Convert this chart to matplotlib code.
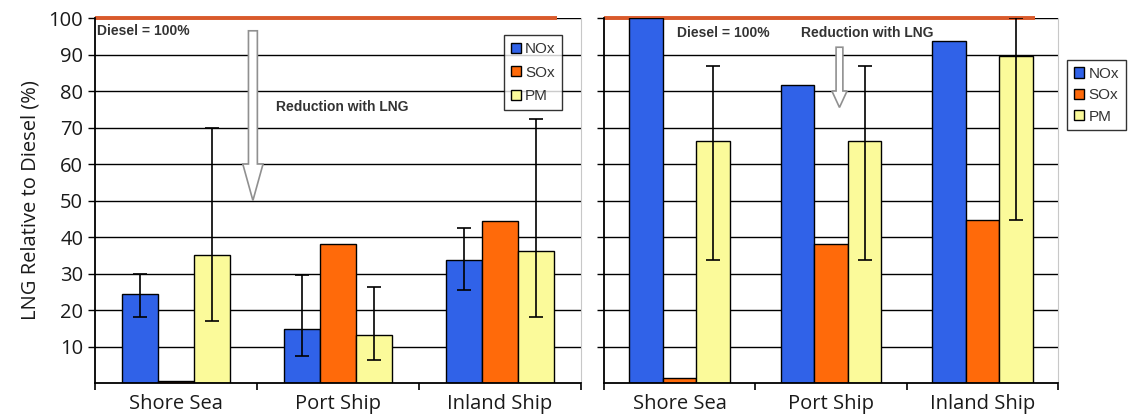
import matplotlib
matplotlib.use("Agg")
import matplotlib.pyplot as plt
import numpy as np
from matplotlib.patches import FancyArrow

categories = ["Shore Sea", "Port Ship", "Inland Ship"]
series = ["NOx", "SOx", "PM"]

# Left panel values
left_nox = [24.5, 14.7, 33.7]
left_sox = [0.5, 38.0, 44.5]
left_pm = [35.2, 13.2, 36.3]
left_nox_lo = [18.2, 7.3, 25.4]
left_nox_hi = [30.0, 29.7, 42.4]
left_pm_lo = [17.0, 6.4, 18.0]
left_pm_hi = [69.9, 26.4, 72.3]

# Right panel values
right_nox = [100.0, 81.6, 93.7]
right_sox = [1.5, 38.0, 44.7]
right_pm = [66.3, 66.3, 89.6]
right_pm_lo = [33.6, 33.6, 44.7]
right_pm_hi = [86.9, 86.9, 100.0]

yticks = [10, 20, 30, 40, 50, 60, 70, 80, 90, 100]

colors = ["#3062e8", "#ff6a0a", "#fbfa9a"]
red = "#d95a2b"

fig = plt.figure(figsize=(11.32, 4.2), dpi=100)
axL = fig.add_axes([0.0839, 0.0881, 0.4293, 0.869])
axR = fig.add_axes([0.5336, 0.0881, 0.4010, 0.869])

x = np.arange(len(categories))
bw = 0.222
FS = 14.5

def draw(ax, nox, sox, pm, nox_err=None, pm_err=None):
    vals = [nox, sox, pm]
    for i, v in enumerate(vals):
        ax.bar(x + (i - 1) * bw, v, bw, color=colors[i], edgecolor="black",
               linewidth=1.0, label=series[i], zorder=2)
    if nox_err is not None:
        lo, hi = nox_err
        mid = np.array(nox)
        ax.errorbar(x - bw, mid, yerr=[mid - np.array(lo), np.array(hi) - mid],
                    fmt="none", ecolor="black", elinewidth=1.2, capsize=5,
                    capthick=1.2, zorder=3)
    if pm_err is not None:
        lo, hi = pm_err
        mid = np.array(pm)
        ax.errorbar(x + bw, mid, yerr=[mid - np.array(lo), np.array(hi) - mid],
                    fmt="none", ecolor="black", elinewidth=1.2, capsize=5,
                    capthick=1.2, zorder=3)
    ax.set_xlim(-0.5, 2.5)
    ax.set_ylim(0, 100)
    ax.set_yticks(yticks)
    ax.yaxis.grid(True, color="black", linewidth=1.0)
    ax.set_axisbelow(True)
    ax.set_xticks([-0.5, 0.5, 1.5, 2.5])
    ax.set_xticklabels([])
    ax.set_xticks(x, minor=True)
    ax.set_xticklabels(categories, minor=True, fontsize=FS, family="Open Sans",
                       color="#1a1a1a")
    ax.tick_params(axis="x", which="minor", length=0, pad=8)
    ax.tick_params(axis="x", which="major", length=5, width=1.2, direction="out")
    ax.tick_params(axis="y", length=5, width=1.0, direction="out")
    ax.spines["top"].set_visible(False)
    ax.spines["right"].set_color("#c8c8c8")
    ax.spines["left"].set_linewidth(1.3)
    ax.spines["bottom"].set_linewidth(1.3)
    ax.plot([-0.5, 2.35], [100, 100], color=red, linewidth=2.8, clip_on=False,
            zorder=1.5, solid_capstyle="butt")

draw(axL, left_nox, left_sox, left_pm, (left_nox_lo, left_nox_hi), (left_pm_lo, left_pm_hi))
draw(axR, right_nox, right_sox, right_pm, None, (right_pm_lo, right_pm_hi))

for lab in axL.get_yticklabels():
    lab.set_fontsize(FS)
    lab.set_family("Open Sans")
    lab.set_color("#1a1a1a")
axR.set_yticklabels([])
axL.set_ylabel("LNG Relative to Diesel (%)", fontsize=FS, family="Open Sans",
               labelpad=6, color="#1a1a1a")

txt_kw = dict(fontsize=10, fontweight="bold", family="Liberation Sans", color="#333333")
axL.text(-0.49, 96.5, "Diesel = 100%", va="center", ha="left", zorder=5, **txt_kw)
axL.text(0.62, 75.5, "Reduction with LNG", va="center", ha="left", zorder=5, **txt_kw)
axR.text(-0.02, 96.0, "Diesel = 100%", va="center", ha="left", zorder=5, **txt_kw)
axR.text(0.80, 96.0, "Reduction with LNG", va="center", ha="left", zorder=5, **txt_kw)

axL.add_patch(FancyArrow(0.475, 96.5, 0, -46.5, width=0.055, head_width=0.125,
                         head_length=10, length_includes_head=True,
                         facecolor="white", edgecolor="#909090", linewidth=1.2, zorder=4))
axR.add_patch(FancyArrow(1.056, 92.0, 0, -16.5, width=0.045, head_width=0.1,
                         head_length=4.5, length_includes_head=True,
                         facecolor="white", edgecolor="#909090", linewidth=1.2, zorder=4))

leg_kw = dict(frameon=True, fancybox=False, edgecolor="black",
              handlelength=0.65, handleheight=0.65, handletextpad=0.3,
              borderpad=0.45, borderaxespad=0,
              prop={"family": "Liberation Sans", "size": 11})
legL = axL.legend(loc="upper right", bbox_to_anchor=(0.962, 0.953),
                  labelspacing=0.62, **leg_kw)
legR = axR.legend(loc="upper left", bbox_to_anchor=(1.02, 0.885),
                  labelspacing=0.48, **leg_kw)
for leg in (legL, legR):
    leg.get_frame().set_linewidth(1.0)
    for t in leg.get_texts():
        t.set_color("#333333")

fig.savefig("out.png", dpi=100)
